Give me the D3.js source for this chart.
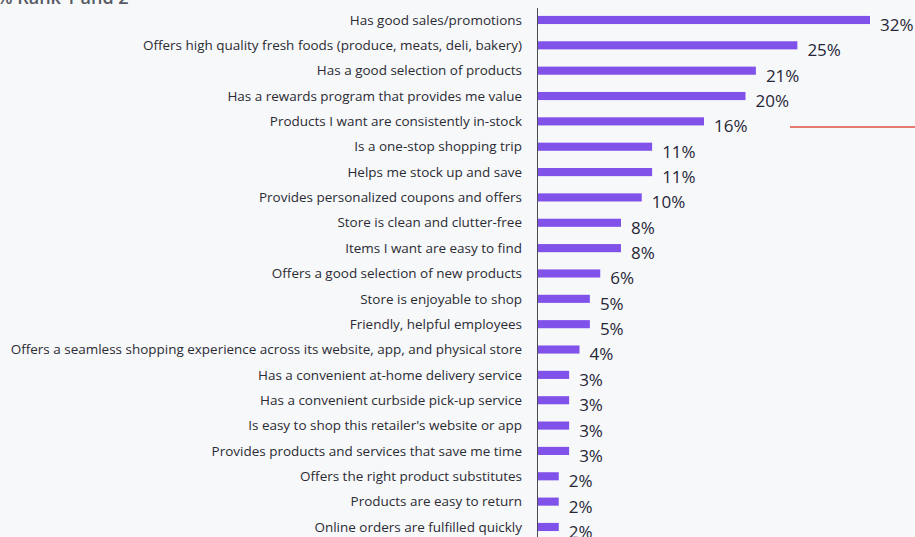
<!DOCTYPE html>
<html>
<head>
<meta charset="utf-8">
<script src="https://cdn.jsdelivr.net/npm/d3@7"></script>
<style>
  html, body { margin: 0; padding: 0; background: #f7f8fa; }
  svg { display: block; }
</style>
</head>
<body>
<div id="chart"></div>
<script>
// Chart data
const categories = [
    "Has good sales/promotions",
    "Offers high quality fresh foods (produce, meats, deli, bakery)",
    "Has a good selection of products",
    "Has a rewards program that provides me value",
    "Products I want are consistently in-stock",
    "Is a one-stop shopping trip",
    "Helps me stock up and save",
    "Provides personalized coupons and offers",
    "Store is clean and clutter-free",
    "Items I want are easy to find",
    "Offers a good selection of new products",
    "Store is enjoyable to shop",
    "Friendly, helpful employees",
    "Offers a seamless shopping experience across its website, app, and physical store",
    "Has a convenient at-home delivery service",
    "Has a convenient curbside pick-up service",
    "Is easy to shop this retailer's website or app",
    "Provides products and services that save me time",
    "Offers the right product substitutes",
    "Products are easy to return",
    "Online orders are fulfilled quickly"
];
const values = [32, 25, 21, 20, 16, 11, 11, 10, 8, 8, 6, 5, 5, 4, 3, 3, 3, 3, 2, 2, 2];
const titleText = "% Rank 1 and 2";

const svgWidth = 915;
const svgHeight = 537;
const axisX = 537.5;

const svg = d3.select("#chart")
    .append("svg")
    .attr("width", svgWidth)
    .attr("height", svgHeight);

svg.append("rect")
    .attr("width", svgWidth)
    .attr("height", svgHeight)
    .attr("fill", "#f7f8fa");

// Cropped title at the very top
svg.append("text")
    .attr("x", -3)
    .attr("y", 4)
    .attr("font-family", "'Open Sans', sans-serif")
    .attr("font-size", 18)
    .attr("font-weight", 600)
    .attr("fill", "#555a63")
    .text(titleText);

// Scales
const x = d3.scaleLinear()
    .domain([0, 32])
    .range([axisX + 0.5, 870]);

const y = d3.scaleBand()
    .domain(categories)
    .range([7.3, 7.3 + 25.35 * categories.length])
    .paddingInner(0.68)
    .paddingOuter(0.34);

// Vertical axis line
svg.append("line")
    .attr("x1", axisX)
    .attr("x2", axisX)
    .attr("y1", 8)
    .attr("y2", svgHeight)
    .attr("stroke", "#4a4a55")
    .attr("stroke-width", 1);

// Category labels
const labels = svg.selectAll(".cat")
    .data(categories)
    .enter()
    .append("text")
    .attr("class", "cat")
    .attr("x", 522)
    .attr("y", d => y(d) + y.bandwidth() / 2)
    .attr("dy", "0.35em")
    .attr("text-anchor", "end")
    .attr("font-family", "'Open Sans', sans-serif")
    .attr("font-size", 12)
    .attr("fill", "#2b2b33")
    .text(d => d);

// fit the longest label so it starts near the left edge
const longest = d3.max(labels.nodes(), n => n.getComputedTextLength());
labels.attr("font-size", 12 * 512 / longest);

// Bars
svg.selectAll(".bar")
    .data(values)
    .enter()
    .append("rect")
    .attr("class", "bar")
    .attr("x", x(0))
    .attr("y", (d, i) => y(categories[i]))
    .attr("width", d => x(d) - x(0))
    .attr("height", y.bandwidth())
    .attr("fill", "#8152e9");

// Value labels
svg.selectAll(".val")
    .data(values)
    .enter()
    .append("text")
    .attr("class", "val")
    .attr("x", d => x(d) + 10)
    .attr("y", (d, i) => y(categories[i]) + y.bandwidth() / 2 + 5)
    .attr("dy", "0.35em")
    .attr("font-family", "'Open Sans', sans-serif")
    .attr("font-size", 17)
    .attr("fill", "#262637")
    .text(d => d + "%");

// Red annotation line
svg.append("line")
    .attr("x1", 790)
    .attr("x2", 915)
    .attr("y1", 127)
    .attr("y2", 127)
    .attr("stroke", "#e2503f")
    .attr("stroke-width", 1.5);
</script>
</body>
</html>
